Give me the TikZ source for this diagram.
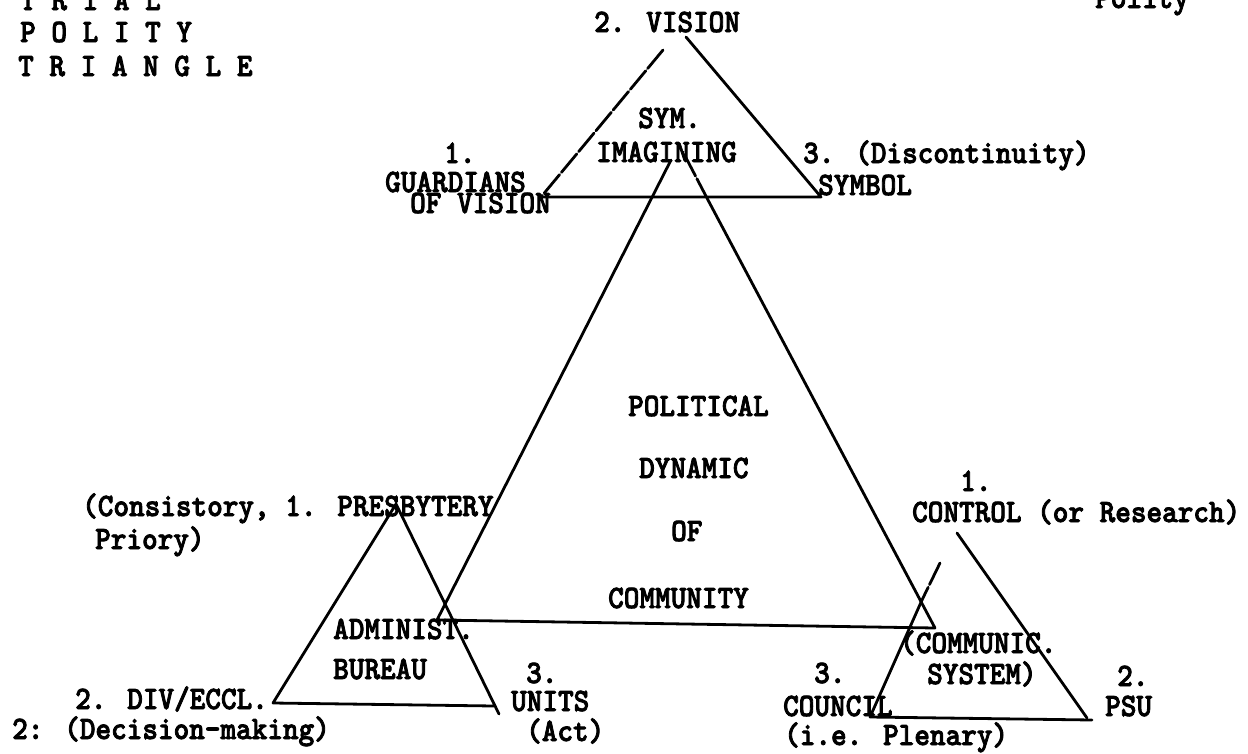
\documentclass[tikz,border=0pt]{standalone}
\usepackage{fontspec}
\newfontfamily\tw[FakeStretch=0.91,FakeBold=2.5]{lmmonolt10-bold.otf}
\begin{document}
\begin{tikzpicture}[x=1pt,y=-1pt,
  tx/.style={anchor=base west, inner sep=0pt, font=\tw\fontsize{32.7pt}{33pt}\selectfont},
  edge/.style={line width=2.8pt, line cap=round, line join=round},
  broken/.style={edge, dash pattern=on 24pt off 3pt}]
\fill[white] (0,0) rectangle (1248,753);
\useasboundingbox (0,0) rectangle (1248,753);

% title
\node[tx] (t1) at (20,10) {T R I A L};
\node[tx] (t2) at (20,42) {P O L I T Y};
\node[tx] (t3) at (18,76) {T R I A N G L E};
\node[tx] (pol) at (1095,8) {Polity};

% top triangle labels
\node[tx] (vis) at (594,32) {2. VISION};
\node[tx] (sym) at (638,128) {SYM.};
\node[tx] (ima) at (596,162) {IMAGINING};
\node[tx] (g1) at (444,163) {1.};
\node[tx] (g2) at (385,192) {GUARDIANS};
\node[tx] (g3) at (410,213) {OF VISION};
\node[tx] (d1) at (803,163) {3. (Discontinuity)};
\node[tx] (d2) at (818,195) {SYMBOL};

% main triangle labels
\node[tx] (m1) at (628,416) {POLITICAL};
\node[tx] (m2) at (639,478) {DYNAMIC};
\node[tx] (m3) at (671,541) {OF};
\node[tx] (m4) at (608,608) {COMMUNITY};

% bottom-left triangle labels
\node[tx] (p1) at (82,516) {(Consistory, 1. PRESBYTERY};
\node[tx] (p2) at (95,549) {Priory)};
\node[tx] (p3) at (333,639) {ADMINIST.};
\node[tx] (p4) at (333,679) {BUREAU};
\node[tx] (p5) at (75,709) {2. DIV/ECCL.};
\node[tx] (p6) at (12,739) {2: (Decision-making)};
\node[tx] (u1) at (526,683) {3.};
\node[tx] (u2) at (511,711) {UNITS};
\node[tx] (u3) at (526,741) {(Act)};

% bottom-right triangle labels
\node[tx] (c1) at (960,491) {1.};
\node[tx] (c2) at (912,522) {CONTROL (or Research)};
\node[tx] (c3) at (900,653) {(COMMUNIC.};
\node[tx] (c4) at (927,684) {SYSTEM)};
\node[tx] (s1) at (1117,686) {2.};
\node[tx] (s2) at (1105,716) {PSU};
\node[tx] (k1) at (814,683) {3.};
\node[tx] (k2) at (783,716) {COUNCIL};
\node[tx] (k3) at (784,745) {(i.e. Plenary)};

% top triangle
\coordinate (vL) at (663,50);
\coordinate (vR) at (686,37);
\coordinate (vBL) at (541,197);
\coordinate (vBR) at (821,197);
\draw[broken] (vL) -- (vBL);
\draw[edge] (vBL) -- (vBR) -- (vR);

% main triangle
\coordinate (mL) at (671,160);
\coordinate (mR) at (683,152);
\coordinate (mR2) at (708,200);
\coordinate (mBL) at (437,620);
\coordinate (mBR) at (935,628);
\draw[edge] (mL) -- (mBL) -- (mBR) -- (mR2);
\draw[broken] (mR2) -- (mR);

% bottom-left triangle
\coordinate (pA) at (396,504);
\coordinate (pBL) at (273,703);
\coordinate (pBR) at (494,706);
\coordinate (pR) at (499,714);
\draw[edge] (pR) -- (pA) -- (pBL) -- (pBR);

% bottom-right triangle
\coordinate (cA) at (957,533);
\coordinate (cL) at (940,563);
\coordinate (cL2) at (922,600);
\coordinate (cBL) at (870,717);
\coordinate (cBR) at (1092,720);
\coordinate (cR) at (1087,718);
\draw[broken] (cL) -- (cL2);
\draw[edge] (cL2) -- (cBL) -- (cBR);
\draw[edge] (cA) -- (cR);
\end{tikzpicture}
\end{document}
